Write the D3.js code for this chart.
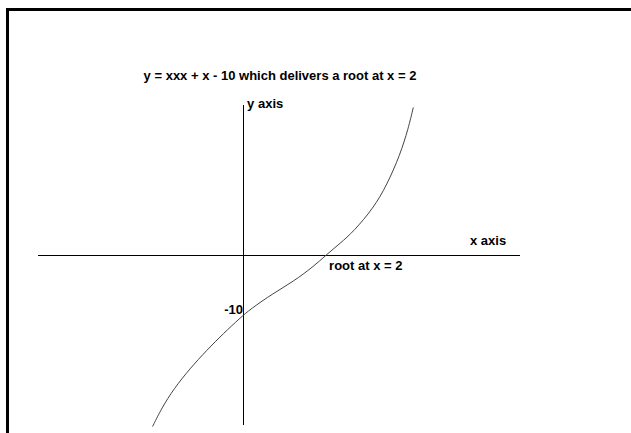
<!DOCTYPE html>
<html>
<head>
<meta charset="utf-8">
<script src="https://cdn.jsdelivr.net/npm/d3@7"></script>
<style>
  body { margin: 0; background: #fff; }
  svg text { font-family: "Liberation Sans", Arial, sans-serif; font-weight: bold; font-size: 13px; fill: #000; }
</style>
</head>
<body>
<svg id="chart" width="631" height="433"></svg>
<script>
// curve points (x, y = x^3 + x - 10 as drawn)
var curveX = [-2.18, -1.96, -1.67, -1.28, -0.87, -0.47, -0.07, 0.17, 0.73, 1.21, 1.69, 2.0, 2.34, 2.66, 3.14, 3.46, 3.78, 3.98, 4.10];
var curveY = [-27.8, -24.8, -21.7, -18.4, -15.4, -12.7, -10.2, -8.8, -6.2, -4.3, -1.9, 0, 1.9, 3.8, 7.6, 11.3, 16.2, 20.5, 23.9];

var titleText = "y = xxx + x - 10 which delivers a root at x = 2";
var rootLabel = "root at x = 2";
var yTickLabel = "-10";
var yTickValue = -10;
var rootValue = 2;

var svg = d3.select("#chart");

var x = d3.scaleLinear().domain([-4.94, 6.67]).range([38, 520]);
var y = d3.scaleLinear().domain([-27.55, 24.3]).range([425, 105]);

// frame (only top and left edges are visible)
svg.append("line")
    .attr("x1", 6).attr("x2", 631)
    .attr("y1", 9.5).attr("y2", 9.5)
    .attr("stroke", "#000").attr("stroke-width", 3);
svg.append("line")
    .attr("x1", 7.5).attr("x2", 7.5)
    .attr("y1", 8).attr("y2", 433)
    .attr("stroke", "#000").attr("stroke-width", 3);

// axes
svg.append("line")
    .attr("x1", x.range()[0]).attr("x2", x.range()[1])
    .attr("y1", Math.round(y(0)) + 0.5).attr("y2", Math.round(y(0)) + 0.5)
    .attr("stroke", "#000").attr("stroke-width", 1);
svg.append("line")
    .attr("x1", Math.round(x(0)) + 0.5).attr("x2", Math.round(x(0)) + 0.5)
    .attr("y1", y.range()[1]).attr("y2", y.range()[0])
    .attr("stroke", "#000").attr("stroke-width", 1);

// curve
var pts = curveX.map(function(d, i) { return [d, curveY[i]]; });
var line = d3.line()
    .x(function(d) { return x(d[0]); })
    .y(function(d) { return y(d[1]); })
    .curve(d3.curveBasis);
svg.append("path")
    .datum(pts)
    .attr("d", line)
    .attr("fill", "none")
    .attr("stroke", "#444")
    .attr("stroke-width", 1);

// texts
svg.append("text").attr("x", 280).attr("y", 80)
    .attr("text-anchor", "middle").text(titleText);
svg.append("text").attr("x", x(0) + 4).attr("y", 108).text("y axis");
svg.append("text").attr("x", 470).attr("y", 245).text("x axis");
svg.append("text").attr("x", x(rootValue) + 3).attr("y", 270).text(rootLabel);
svg.append("text").attr("x", x(0)).attr("y", y(yTickValue) - 3)
    .attr("text-anchor", "end").text(yTickLabel);
</script>
</body>
</html>
